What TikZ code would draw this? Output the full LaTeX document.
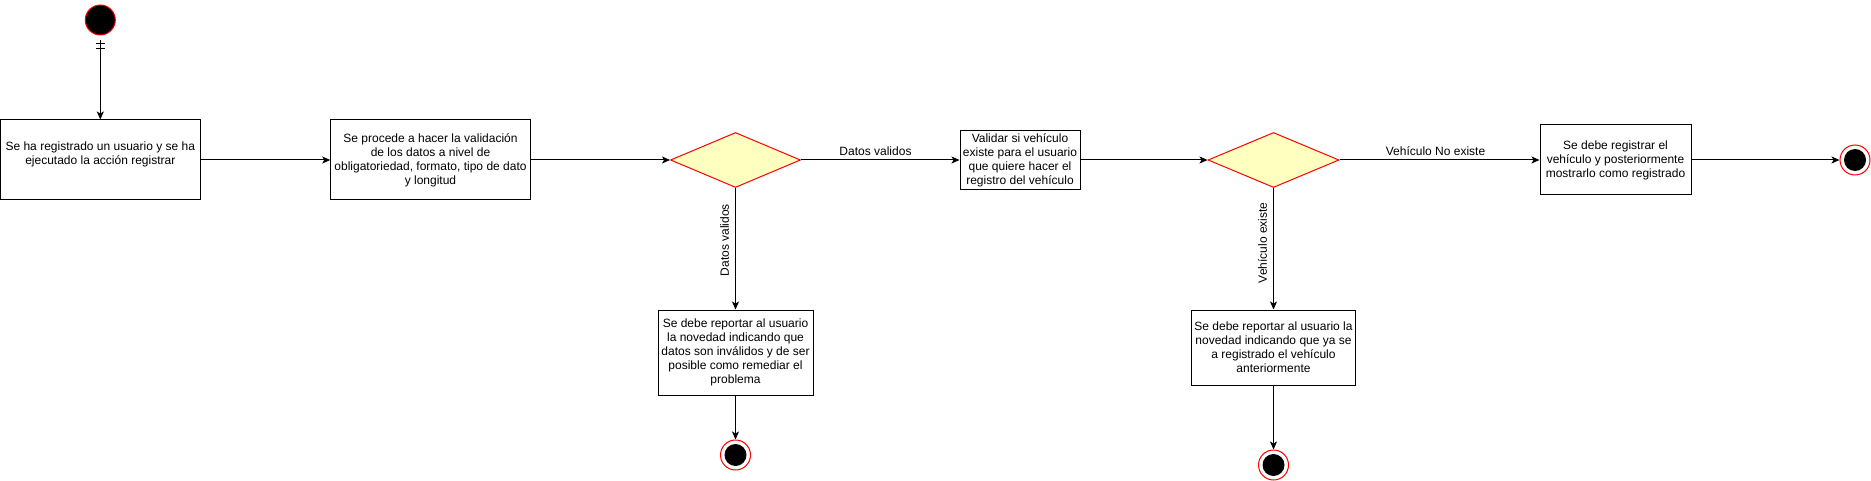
\documentclass[tikz,border=0pt]{standalone}
\usepackage{fontspec}
\setmainfont{Liberation Sans}
\usetikzlibrary{shapes.geometric,arrows.meta,calc}
\definecolor{decfill}{HTML}{FFFFC0}
\definecolor{umlred}{HTML}{FF0000}
\begin{document}
\begin{tikzpicture}[x=1pt,y=-1pt,
  every node/.style={font=\fontsize{12}{14}\selectfont},
  act/.style={draw=black, line width=1pt, fill=white, align=center, inner sep=0pt},
  dec/.style={diamond, draw=umlred, fill=decfill, line width=1pt, inner sep=0pt,
    minimum width=130pt, minimum height=55pt},
  startn/.style={circle, draw=umlred, fill=black, line width=1pt, inner sep=0pt, minimum size=30pt},
  endo/.style={circle, draw=umlred, fill=white, line width=1pt, inner sep=0pt, minimum size=30pt},
  endi/.style={circle, fill=black, inner sep=0pt, minimum size=22pt},
  flow/.style={draw=black, line width=1pt, -{Stealth[length=8pt,width=7pt,inset=2pt]}},
  lbl/.style={inner sep=1pt, fill=none}
]
\useasboundingbox (0,0) rectangle (1871,481);

% start
\node[startn] (st) at (100.3,20) {};

% activities
\node[act, minimum width=199.5pt, minimum height=80pt,
  label={[align=center, yshift=6pt, font=\fontsize{12}{14}\selectfont]center:Se ha registrado un usuario y se ha\\ejecutado la acción registrar}] (b1) at (100.3,160) {};
\node[act, minimum width=199.5pt, minimum height=80pt] (b2) at (430.5,160)
  {Se procede a hacer la validación\\de los datos a nivel de\\obligatoriedad, formato, tipo de dato\\y longitud};
\node[dec] (d1) at (735.5,160) {};
\node[act, minimum width=120pt, minimum height=59pt] (b3) at (1020,160)
  {Validar si vehículo\\existe para el usuario\\que quiere hacer el\\registro del vehículo};
\node[dec, minimum width=131pt] (d2) at (1273.5,160) {};
\node[act, minimum width=151pt, minimum height=70pt] (b4) at (1615.5,160)
  {Se debe registrar el\\vehículo y posteriormente\\mostrarlo como registrado};
\node[endo] (e1) at (1855,160) {};
\node[endi] (e1i) at (e1) {};

\node[act, minimum width=155pt, minimum height=85pt] (b5) at (735.5,352.5)
  {Se debe reportar al usuario\\la novedad indicando que\\datos son inválidos y de ser\\posible como remediar el\\problema};
\node[endo] (e2) at (735.5,455) {};
\node[endi] (e2i) at (e2) {};

\node[act, minimum width=164pt, minimum height=75pt] (b6) at (1273.5,347.5)
  {Se debe reportar al usuario la\\novedad indicando que ya se\\a registrado el vehículo\\anteriormente};
\node[endo] (e3) at (1273.5,465) {};
\node[endi] (e3i) at (e3) {};

% connectors
\draw[flow, shorten <=5pt] (st) -- (b1);
\draw[line width=1pt] ($(st.south)+(-4.5,8)$) -- ($(st.south)+(4.5,8)$);
\draw[line width=1pt] ($(st.south)+(-4.5,13)$) -- ($(st.south)+(4.5,13)$);

\draw[flow] (b1) -- (b2);
\draw[flow] (b2) -- (d1);
\draw[flow] (d1) -- node[lbl, pos=0.47, above=3pt] {Datos validos} (b3);
\draw[flow] (b3) -- (d2);
\draw[flow] (d2) -- node[lbl, pos=0.48, above=3pt] {Vehículo No existe} (b4);
\draw[flow] (b4) -- (e1);

\draw[flow] (d1) -- node[lbl, pos=0.43, xshift=-11pt, rotate=90] {Datos validos} (b5);
\draw[flow] (b5) -- (e2);
\draw[flow] (d2) -- node[lbl, pos=0.45, xshift=-11pt, rotate=90] {Vehículo existe} (b6);
\draw[flow] (b6) -- (e3);
\end{tikzpicture}
\end{document}
